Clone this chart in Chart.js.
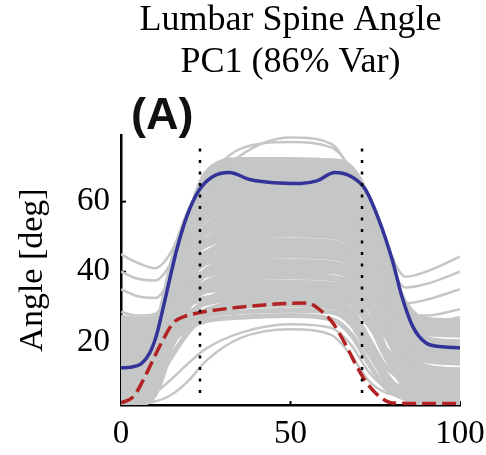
<!DOCTYPE html>
<html>
<head>
<meta charset="utf-8">
<script src="https://cdn.jsdelivr.net/npm/chart.js@4.4.1/dist/chart.umd.min.js"></script>
<style>
  html, body { margin: 0; padding: 0; background: #fff; }
  #wrap { width: 486px; height: 455px; }
</style>
</head>
<body>
<div id="wrap"><canvas id="c" width="486" height="455"></canvas></div>
<script>
// Axis ticks and event markers (% of cycle)
const xTicks = [0, 50, 100];
const yTicks = [20, 40, 60];
const eventLines = [23.3, 71.1];
const eventSpan = [5.4, 77];

// PC1 +SD reconstruction (solid blue)
const highX = [0, 3, 6, 8.5, 10.5, 12.5, 14.5, 16.5, 19.5, 23, 27, 32, 38, 45, 53, 58, 63, 68, 72, 76, 80, 83, 86, 90, 95, 100];
const highY = [12.6, 12.8, 13.8, 16.9, 22, 30, 38.5, 46.5, 56, 63.2, 67.1, 68.3, 66.3, 65.4, 65.2, 66, 68.3, 67.1, 63.6, 55, 43.4, 32.5, 24.5, 19.7, 18.6, 18.3];

// PC1 -SD reconstruction (dashed red)
const lowX = [0, 3.6, 6.5, 9.5, 12.4, 15.4, 18.3, 23, 33, 43, 50, 55, 58.7, 62.5, 66.6, 69.6, 72.5, 76.4, 80, 90, 100];
const lowY = [2.6, 4.3, 9, 15, 20.6, 25.4, 27.1, 28.3, 29.7, 30.6, 31, 31.1, 29.1, 25.4, 18.6, 12.9, 8.3, 4.3, 2.6, 2.4, 2.4];

// Individual trials (grey), sampled at trialX
const trialX = [0, 5, 10, 15, 20, 25, 35, 50, 62, 68, 73, 78, 84, 90, 100];
const trials = [
  [3, 6, 13, 20, 24, 26, 27, 27.5, 26.5, 22, 14, 7, 3.8, 3.1, 3],
  [6, 8, 14, 21, 25.5, 27.5, 28.5, 29, 28.5, 25, 17, 10, 6.2, 5.2, 5],
  [2, 3, 8, 16, 23, 27.5, 30, 30.5, 30, 26, 18, 9, 4, 2.3, 2],
  [10, 10.5, 14, 22, 28, 31, 32, 32, 31.5, 29, 21, 13, 9.3, 8.2, 8],
  [4, 5, 10, 19, 27, 32, 34, 34, 33.5, 31, 25, 18, 13.5, 12.2, 12],
  [14, 14.5, 17, 24, 31, 34.5, 36, 36, 35.5, 33, 26, 16, 9, 6.5, 6],
  [8, 8.5, 11, 20, 30, 36, 38, 38.5, 38, 35.5, 30, 22, 17, 15.2, 15],
  [18, 18, 20, 27, 35, 39, 40, 40, 40, 38, 32, 22, 13, 10.5, 10],
  [5, 5.5, 9, 20, 32, 39.5, 42, 42, 41.5, 39, 31, 18, 8, 4.6, 4],
  [22, 22, 23.5, 30, 38, 42.5, 44, 44.5, 44, 42, 36, 28, 22, 20.3, 20],
  [12, 12.3, 15, 26, 38, 44, 46, 46, 45.5, 43, 37, 28, 21, 18.5, 18],
  [3, 3.5, 7, 19, 35, 45, 48, 48, 47.5, 45.5, 38, 24, 11, 7.5, 7],
  [16, 16, 18, 28, 41, 48, 50, 50.5, 50, 47.5, 41, 32, 25, 22.5, 22],
  [9, 9.2, 12, 24, 40, 49, 52, 52, 51.5, 49.5, 42, 26, 9, 3.8, 3],
  [20, 20, 21.5, 30, 44, 51.5, 54, 54, 53.5, 51.5, 45, 32, 19, 14.6, 14],
  [6, 6.2, 9, 22, 42, 53, 56, 56, 55.5, 53.5, 46, 31, 15, 10.5, 10],
  [24, 24, 25, 33, 47, 55.5, 58, 58, 57.5, 55.5, 49, 38, 28, 24.5, 24],
  [11, 11.2, 13.5, 26, 46, 57, 60, 60, 59.5, 57.5, 49, 31, 12, 6, 5],
  [2, 2.5, 6, 20, 44, 58, 62, 62, 61.5, 59.5, 52, 38, 22, 16.8, 16],
  [17, 17, 19, 30, 50, 60, 63, 63, 62.5, 60.5, 52, 33, 10, 3, 2],
  [7, 7.2, 10, 24, 48, 61, 64, 64.5, 64, 62, 54, 37, 18, 12.6, 12],
  [26, 25.8, 26.5, 35, 52, 62, 65, 65, 64.5, 62.5, 56, 44, 31, 26, 25],
  [13, 13, 15, 28, 50, 63, 66, 65.5, 65.5, 63.5, 55, 36, 15, 9, 8],
  [4, 4.2, 7, 22, 48, 63.5, 67, 67, 67, 65, 57, 42, 27, 21, 20],
  [19, 19, 20.5, 32, 53, 65, 68, 68, 68, 66, 57, 36, 12, 5, 4],
  [9, 9, 11.5, 26, 51, 66, 69, 69.5, 69, 67, 58, 41, 21, 15, 14],
  [15, 15, 17, 30, 54, 67, 70, 70, 70, 68, 60, 46, 29, 24, 23],
  [1, 2, 5, 20, 49, 67, 71, 71, 70.5, 68.5, 58, 37, 15, 9.8, 9],
  [22, 22, 23, 34, 55, 67, 70.5, 70.5, 70.5, 68.5, 61, 44, 24, 18, 17],
  [10, 10, 12.5, 27, 53, 68, 71.5, 71.5, 71, 69, 58, 37, 14, 5, 2.5],
  [25, 24.5, 25.5, 34, 48, 55, 57, 57, 56.5, 54.5, 47, 30, 12, 6.8, 6],
  [21, 21, 22, 30, 40, 45.5, 47, 47, 46.5, 44.5, 40, 33, 27.5, 25.4, 25],
  [5, 5, 8, 22, 45, 58, 61, 61, 60.5, 58.5, 51, 38, 25, 19.8, 19],
  [2.5, 3, 7, 19, 33, 40.5, 43, 43, 42.5, 40.5, 35, 28, 24, 22.4, 22],
  [27, 26.5, 27, 34, 45, 51, 53, 53, 52.5, 50.5, 43, 29, 15, 11.6, 11],
  [12, 12, 15, 24, 32, 37, 39, 39, 38.5, 37, 33, 28.5, 25, 24.2, 24],
  [3, 3.2, 6, 21, 47, 62.5, 66.5, 66.5, 66, 64, 55, 35, 13, 7, 6],
  [18, 18, 20, 26, 30.5, 32.5, 33, 33, 32.5, 31, 27, 22, 19, 18.2, 18],
  [8, 8, 10.5, 23, 45, 56, 59, 59, 58.5, 56.5, 49, 38, 29, 26.5, 26],
  [7, 7, 10, 25, 52, 67.5, 71, 71.5, 71.5, 69.5, 60, 42, 20, 12.5, 11],
  [16, 16, 18, 31, 55, 68, 72, 72, 71.5, 69.5, 61, 45, 26, 20, 19],
  [12, 12, 14, 28, 52, 66, 69.5, 70, 70, 68, 59, 40, 18, 10.5, 9.5],
  [4, 5.5, 11, 20, 26, 29, 31, 31, 30.5, 28, 20, 11, 5, 3.4, 3],
  [15, 15.5, 18, 26, 32, 34.5, 35, 35, 34.5, 32, 26, 18, 12, 10.4, 10],
  [6, 6.5, 10, 21, 31, 35.5, 37, 37, 36.5, 34, 27, 16, 7, 4.5, 4],
  [20, 20, 22, 29, 37, 40, 41, 41, 40.5, 38.5, 33, 25, 18, 16.3, 16],
  [9, 9.5, 13, 25, 38, 43.5, 45, 45, 44.5, 42, 35, 23, 11, 7.5, 7],
  [24, 23.5, 24.5, 32, 43, 47.5, 49, 49, 48.5, 46, 40, 30, 21, 18.5, 18],
  [14, 14, 16, 27, 42, 49, 51, 51, 50.5, 48.5, 41, 27, 12, 7, 6],
  [3, 3.5, 7, 21, 40, 51.5, 55, 55, 54.5, 52.5, 45, 33, 21, 16.6, 16],
  [18, 18, 20, 30, 47, 58, 62, 62.5, 62, 60, 52, 37, 20, 13, 12],
  [5, 5, 8, 22, 46, 61, 65, 65, 65, 63, 55, 39, 20, 11, 10],
  [23, 23, 24, 33, 51, 60, 63.5, 64, 63.5, 61.5, 54, 41, 28, 23.5, 23],
  [11, 11, 13.5, 27, 50, 64, 68, 68.5, 68, 66, 57, 39, 17, 8, 7]
];

// Trials lying apart from the main band (drawn thinner)
const strayTrials = [
  [45, 42.5, 41, 46, 58, 66, 71, 72, 72, 70, 62, 49, 38.6, 40, 44.3],
  [40, 38, 37.5, 43, 55, 64, 68.5, 69, 69, 67, 59, 46, 35.5, 36.5, 40],
  [35, 33, 32.5, 39, 52, 62, 67, 67, 67, 65, 57, 43, 31, 32, 35],
  [28.5, 27.5, 28, 36, 50, 60, 64, 64, 64.5, 62, 54, 39, 27.5, 27.5, 29.3],
  [26, 25.5, 26, 34, 49, 59, 63, 63, 63, 61, 52, 36, 25.5, 25.5, 27],
  [8, 10, 18, 38, 55, 63, 73, 78.3, 76.5, 68, 56, 40, 26, 21, 20],
  [14, 15, 24, 44, 58, 66, 75, 77, 75.5, 69, 58, 42, 28, 23, 22],
  [2, 2.3, 3, 5, 9, 14.5, 21, 23.6, 22, 16, 9, 5.5, 4.5, 3.5, 3],
  [3, 3.5, 5.5, 9.5, 14, 18, 22.5, 25, 24, 19, 11.5, 7, 5, 4, 3.5]
];

const pts = (xs, ys) => ys.map((y, i) => ({ x: xs[i], y: y }));
const GREY = '#c5c7c7';

const datasets = [];
eventLines.forEach(x => {
  datasets.push({
    data: [{ x: x, y: eventSpan[0] }, { x: x, y: eventSpan[1] }],
    borderColor: '#000', borderWidth: 2.5, borderDash: [3, 8.5],
    pointRadius: 0, order: 0
  });
});
datasets.push({
  data: pts(highX, highY), borderColor: '#333399', borderWidth: 3.5,
  pointRadius: 0, cubicInterpolationMode: 'monotone', order: 1
});
datasets.push({
  data: pts(lowX, lowY), borderColor: '#b22222', borderWidth: 3.5,
  borderDash: [14, 6], pointRadius: 0, cubicInterpolationMode: 'monotone', order: 2
});
trials.forEach(t => {
  datasets.push({
    data: pts(trialX, t), borderColor: GREY, borderWidth: 5,
    pointRadius: 0, cubicInterpolationMode: 'monotone', order: 10
  });
});
strayTrials.forEach(t => {
  datasets.push({
    data: pts(trialX, t), borderColor: GREY, borderWidth: 2.5,
    pointRadius: 0, cubicInterpolationMode: 'monotone', order: 9
  });
});

// Inward tick marks and the panel letter
const frame = {
  id: 'frame',
  beforeDatasetsDraw(chart) {
    const { ctx, scales: { x, y } } = chart;
    ctx.save();
    ctx.strokeStyle = '#000';
    ctx.lineWidth = 2;
    yTicks.forEach(v => {
      const py = y.getPixelForValue(v);
      ctx.beginPath(); ctx.moveTo(x.left, py); ctx.lineTo(x.left + 5, py); ctx.stroke();
    });
    xTicks.forEach(v => {
      const px = x.getPixelForValue(v);
      ctx.beginPath(); ctx.moveTo(px, y.bottom); ctx.lineTo(px, y.bottom - 4); ctx.stroke();
    });
    ctx.restore();
  },
  afterDraw(chart) {
    const { ctx, chartArea } = chart;
    ctx.save();
    ctx.fillStyle = '#111';
    ctx.font = 'bold 45px "Liberation Sans", Arial, sans-serif';
    ctx.textBaseline = 'alphabetic';
    ctx.textAlign = 'left';
    ctx.fillText('(A)', chartArea.left + 10, chartArea.top - 6);
    ctx.restore();
  }
};

const serif = '"Liberation Serif", "Times New Roman", serif';

new Chart(document.getElementById('c'), {
  type: 'line',
  data: { datasets: datasets },
  plugins: [frame],
  options: {
    responsive: false,
    animation: false,
    layout: { padding: { left: 0, right: 26, top: 0, bottom: 0 } },
    plugins: {
      legend: { display: false },
      tooltip: { enabled: false },
      title: {
        display: true,
        fullSize: false,
        text: ['Lumbar Spine Angle', 'PC1 (86% Var)'],
        color: '#000',
        font: { family: serif, size: 36, weight: 'normal', lineHeight: 1.167 },
        padding: { top: 0, bottom: 51 }
      }
    },
    scales: {
      x: {
        type: 'linear', min: 0, max: 100,
        afterBuildTicks: s => { s.ticks = xTicks.map(v => ({ value: v })); },
        afterFit: s => { s.height = 50; s.paddingLeft = 0; s.paddingRight = 0; },
        grid: { display: false, drawTicks: false },
        border: { display: true, color: '#000', width: 2.5 },
        ticks: { color: '#000', padding: 10, maxRotation: 0, font: { family: serif, size: 33 } }
      },
      y: {
        type: 'linear', min: 2, max: 79,
        afterBuildTicks: s => { s.ticks = yTicks.map(v => ({ value: v })); },
        afterFit: s => { s.width = 121; s.paddingTop = 0; s.paddingBottom = 0; },
        grid: { display: false, drawTicks: false },
        border: { display: true, color: '#000', width: 2.5 },
        ticks: { color: '#000', padding: 11, font: { family: serif, size: 33 } },
        title: {
          display: true, text: 'Angle [deg]', color: '#000',
          font: { family: serif, size: 34 }, padding: { top: 13, bottom: 0 }
        }
      }
    }
  }
});
</script>
</body>
</html>
